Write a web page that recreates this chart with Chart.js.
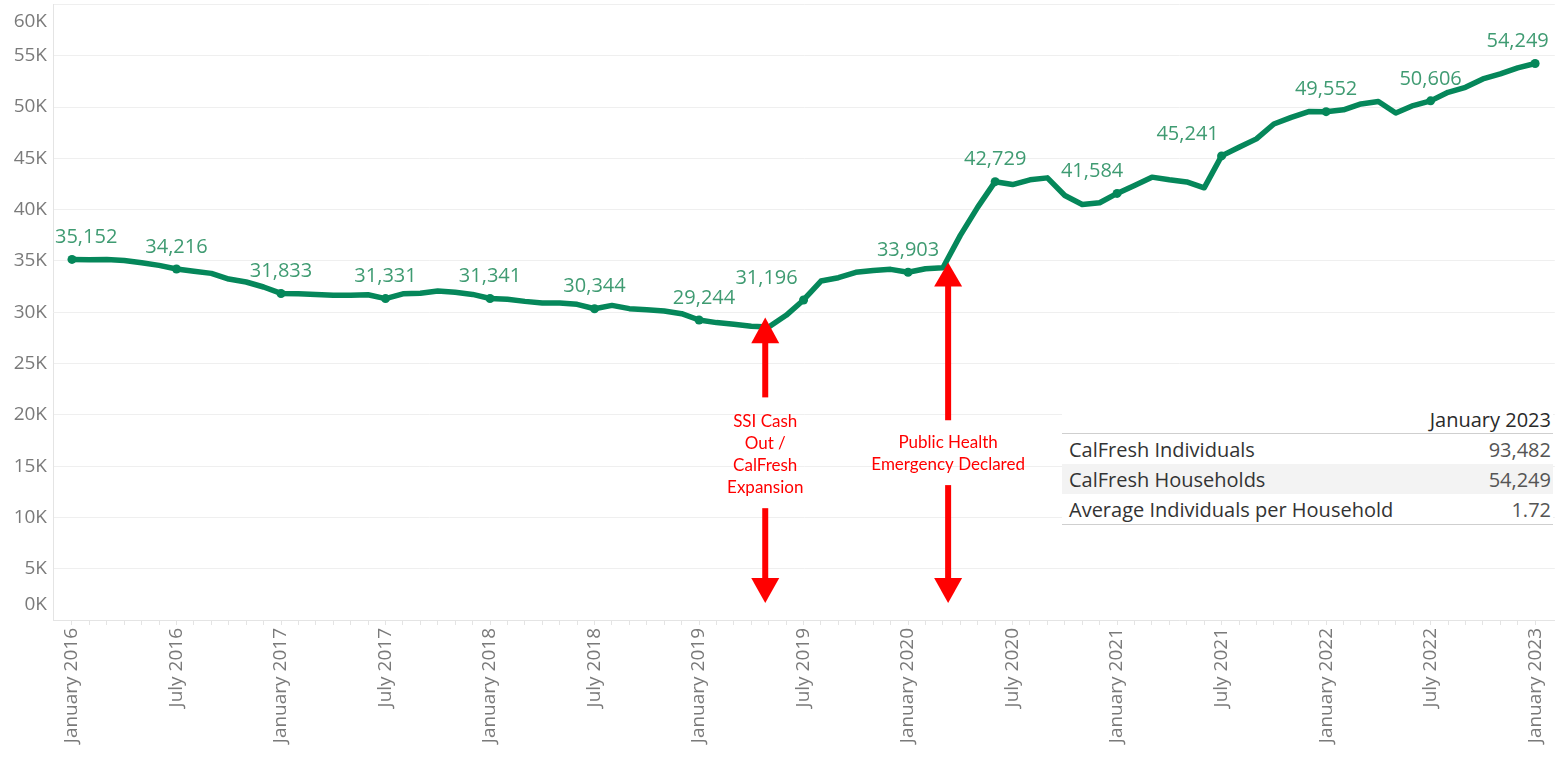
<!DOCTYPE html>
<html>
<head>
<meta charset="utf-8">
<title>CalFresh Households</title>
<script src="https://cdn.jsdelivr.net/npm/chart.js@4.4.1/dist/chart.umd.min.js"></script>
<style>
    body { margin: 0; background: #fff; }
    #wrap { position: relative; width: 1561px; height: 759px; }
    #summary {
        position: absolute; left: 1062px; top: 405px; width: 491px;
        background: #fff; border-collapse: collapse;
        font-family: "Open Sans", sans-serif; font-size: 20px; color: #333;
    }
    #summary td, #summary th { padding: 0 2px 0 7px; white-space: nowrap; }
    #summary th { text-align: right; font-weight: normal; color: #2a2a2a; height: 28px; border-bottom: 1px solid #cfcfcf; }
    #summary td { height: 30px; }
    #summary td.num { text-align: right; color: #555; }
    #summary tr.shade td { background: #f3f3f3; }
    #summary tr.last td { border-bottom: 1px solid #cfcfcf; }
</style>
</head>
<body>
<div id="wrap">
    <canvas id="myChart" width="1561" height="759"></canvas>
    <table id="summary">
        <tr><th></th><th id="sumHead"></th></tr>
        <tbody id="sumBody"></tbody>
    </table>
</div>
<script>
// tick labels for the x axis, one every 6 months
const tickLabels = ["January 2016", "July 2016", "January 2017", "July 2017", "January 2018", "July 2018",
    "January 2019", "July 2019", "January 2020", "July 2020", "January 2021", "July 2021",
    "January 2022", "July 2022", "January 2023"];

// CalFresh households by month, Jan 2016 - Jan 2023
const households = [
    35152, 35120, 35150, 35050, 34830, 34570, 34216, 34000, 33790, 33240,
    32950, 32460, 31833, 31800, 31740, 31650, 31650, 31700, 31331, 31800,
    31850, 32070, 31950, 31740, 31341, 31260, 31060, 30900, 30900, 30770,
    30344, 30670, 30350, 30250, 30120, 29860, 29244, 28990, 28820, 28630,
    28560, 29700, 31196, 33040, 33370, 33890, 34080, 34180, 33903, 34240,
    34340, 37490, 40250, 42729, 42450, 42910, 43100, 41380, 40500, 40670,
    41584, 42360, 43170, 42910, 42700, 42130, 45241, 46090, 46900, 48350,
    49000, 49560, 49552, 49730, 50310, 50540, 49430, 50150, 50606, 51440,
    51930, 52740, 53230, 53820, 54249
];

// months that get a dot and a value label
const labelIdx = [0, 6, 12, 18, 24, 30, 36, 42, 48, 53, 60, 66, 72, 78, 84];

// summary table
const sumTitle = "January 2023";
const sumRows = ["CalFresh Individuals", "CalFresh Households", "Average Individuals per Household"];
const sumValues = ["93,482", "54,249", "1.72"];

// red arrow annotations (x in months, y in households)
const notes = [
    { x: 39.8, lines: ["SSI Cash", "Out /", "CalFresh", "Expansion"], tip: 29500, base: 26970, shaftEnd: 21700, textY: 19380, lowShaft: 10900 },
    { x: 50.3, lines: ["Public Health", "Emergency Declared"], tip: 34860, base: 32500, shaftEnd: 19470, textY: 17330, lowShaft: 13150 }
];

// labels that Tableau nudged left to keep clear of the line
const labelShift = { 42: -37, 60: -25, 66: -34, 36: 5 };

const FONT = "'Open Sans', sans-serif";
const lineColor = "#05875a";
const labelColor = "#3f9b72";
const axisText = "#7a7a7a";

// table
document.getElementById("sumHead").textContent = sumTitle;
const body = document.getElementById("sumBody");
sumRows.forEach((name, i) => {
    const tr = document.createElement("tr");
    if (i === 1) tr.className = "shade";
    if (i === sumRows.length - 1) tr.className = "last";
    tr.innerHTML = "<td>" + name + "</td><td class='num'>" + sumValues[i] + "</td>";
    body.appendChild(tr);
});

// y tick labels, kept inside the plot like Tableau does
const yLabels = {
    id: "yLabels",
    afterDraw(chart) {
        const { ctx, chartArea, scales: { y } } = chart;
        ctx.save();
        ctx.font = "19px " + FONT;
        ctx.fillStyle = axisText;
        ctx.textAlign = "right";
        ctx.textBaseline = "middle";
        y.ticks.forEach(t => {
            let py = y.getPixelForValue(t.value);
            py = Math.min(Math.max(py, chartArea.top + 17), chartArea.bottom - 15);
            ctx.fillText((t.value / 1000) + "K", chartArea.left - 6, py);
        });
        ctx.restore();
    }
};

// value labels above the marked points
const valueLabels = {
    id: "valueLabels",
    afterDatasetsDraw(chart) {
        const { ctx, chartArea } = chart;
        const meta = chart.getDatasetMeta(0);
        ctx.save();
        ctx.font = "20px " + FONT;
        ctx.fillStyle = labelColor;
        ctx.textAlign = "center";
        ctx.textBaseline = "middle";
        labelIdx.forEach(i => {
            const pt = meta.data[i];
            const txt = households[i].toLocaleString("en-US");
            const half = ctx.measureText(txt).width / 2;
            let px = pt.x + (labelShift[i] || 0);
            px = Math.min(Math.max(px, chartArea.left + half + 2), chartArea.right - half - 6);
            ctx.fillText(txt, px, pt.y - 22);
        });
        ctx.restore();
    }
};

// red arrows with notes
const arrows = {
    id: "arrows",
    afterDraw(chart) {
        const { ctx, scales: { x, y } } = chart;
        const head = (px, tipY, baseY) => {
            ctx.beginPath();
            ctx.moveTo(px, tipY);
            ctx.lineTo(px - 14, baseY);
            ctx.lineTo(px + 14, baseY);
            ctx.closePath();
            ctx.fill();
        };
        ctx.save();
        ctx.fillStyle = "#ff0000";
        ctx.strokeStyle = "#ff0000";
        ctx.lineWidth = 6;
        notes.forEach(n => {
            const px = x.getPixelForValue(n.x);
            const baseUp = y.getPixelForValue(n.base);
            const tipDown = y.getPixelForValue(1660);
            const baseDown = y.getPixelForValue(4090);
            // upper arrow
            ctx.beginPath();
            ctx.moveTo(px, baseUp - 1);
            ctx.lineTo(px, y.getPixelForValue(n.shaftEnd));
            ctx.stroke();
            head(px, y.getPixelForValue(n.tip), baseUp);
            // lower arrow
            ctx.beginPath();
            ctx.moveTo(px, y.getPixelForValue(n.lowShaft));
            ctx.lineTo(px, baseDown + 1);
            ctx.stroke();
            head(px, tipDown, baseDown);
            // text
            ctx.font = "17px Lato, sans-serif";
            ctx.textAlign = "center";
            ctx.textBaseline = "middle";
            const ty = y.getPixelForValue(n.textY);
            n.lines.forEach((l, k) => ctx.fillText(l, px, ty + k * 22));
        });
        ctx.restore();
    }
};

new Chart(document.getElementById("myChart"), {
    type: "line",
    data: {
        datasets: [{
            data: households.map((v, i) => ({ x: i, y: v })),
            borderColor: lineColor,
            backgroundColor: lineColor,
            borderWidth: 5.5,
            borderJoinStyle: "round",
            borderCapStyle: "round",
            tension: 0,
            fill: false,
            pointRadius: ctx => labelIdx.includes(ctx.dataIndex) ? 4.5 : 0,
            pointBorderWidth: 0,
            pointHoverRadius: 0
        }]
    },
    options: {
        responsive: false,
        animation: false,
        layout: { padding: { top: 3, right: 6, left: 0, bottom: 0 } },
        plugins: {
            legend: { display: false },
            tooltip: { enabled: false }
        },
        scales: {
            x: {
                type: "linear",
                min: -1.09,
                max: 85.13,
                afterBuildTicks: s => { s.ticks = households.map((_, i) => ({ value: i })); },
                afterFit: s => { s.height = 139; },
                ticks: {
                    autoSkip: false,
                    minRotation: 90,
                    maxRotation: 90,
                    padding: 3,
                    color: axisText,
                    font: { family: FONT, size: 19 },
                    callback: v => v % 6 === 0 ? tickLabels[v / 6] : ""
                },
                grid: { drawOnChartArea: false, drawTicks: true, tickLength: 5, color: "#e4e4e4" },
                border: { color: "#e4e4e4" }
            },
            y: {
                min: 0,
                max: 60000,
                afterFit: s => { s.width = 53; },
                ticks: { stepSize: 5000, display: false },
                grid: { color: "#efefef", drawTicks: false },
                border: { color: "#e4e4e4" }
            }
        }
    },
    plugins: [yLabels, valueLabels, arrows]
});
</script>
</body>
</html>
